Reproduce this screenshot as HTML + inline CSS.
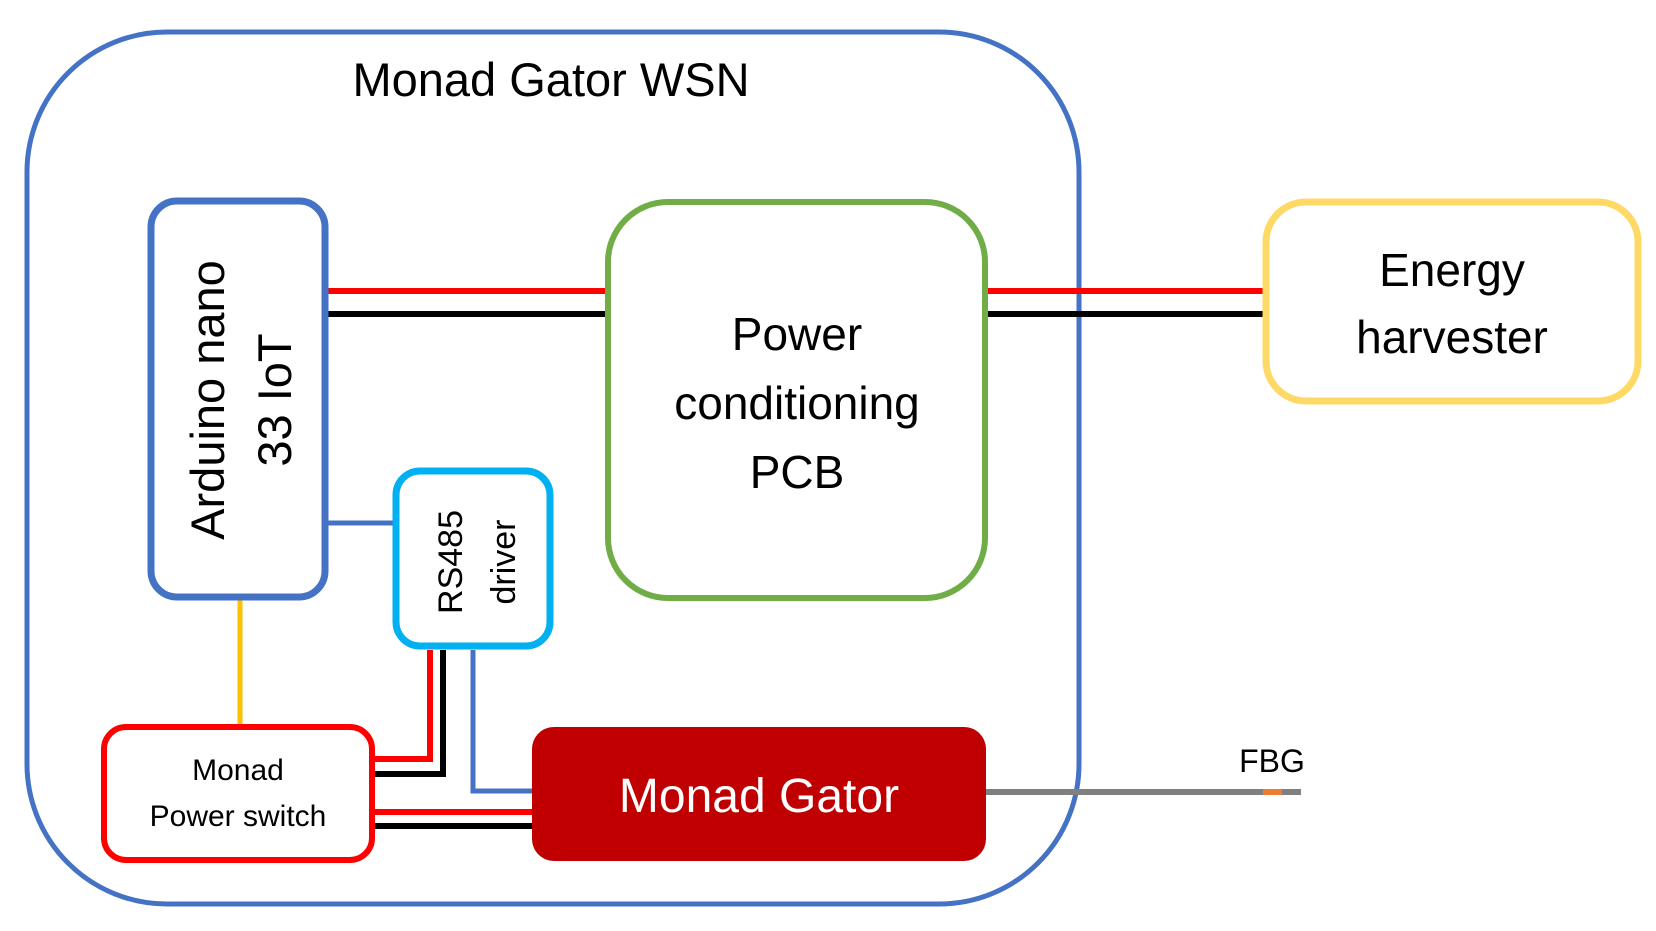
<!DOCTYPE html>
<html><head><meta charset="utf-8"><style>
body{margin:0;background:#fff}
svg{display:block}
text{font-family:"Liberation Sans",sans-serif;fill:#000}
</style></head><body>
<svg width="1656" height="931" viewBox="0 0 1656 931" xmlns="http://www.w3.org/2000/svg">
<rect x="27" y="32" width="1052" height="872" rx="140" fill="none" stroke="#4472C4" stroke-width="5"/>
<text x="551" y="96" font-size="47" text-anchor="middle">Monad Gator WSN</text>
<g stroke-width="6" fill="none">
<line x1="326" y1="291" x2="607" y2="291" stroke="#FF0000"/>
<line x1="326" y1="314" x2="607" y2="314" stroke="#000"/>
<line x1="985" y1="291" x2="1265" y2="291" stroke="#FF0000"/>
<line x1="985" y1="314" x2="1265" y2="314" stroke="#000"/>
<line x1="326" y1="523" x2="394" y2="523" stroke="#4472C4" stroke-width="5"/>
<line x1="240" y1="598" x2="240" y2="727" stroke="#FFC000" stroke-width="5"/>
<polyline points="430,650 430,759 373,759" stroke="#FF0000"/>
<polyline points="443,650 443,774 373,774" stroke="#000"/>
<polyline points="473,650 473,791 533,791" stroke="#4472C4" stroke-width="5"/>
<line x1="373" y1="812" x2="533" y2="812" stroke="#FF0000"/>
<line x1="373" y1="826" x2="533" y2="826" stroke="#000"/>
<line x1="985" y1="792" x2="1301" y2="792" stroke="#808080" stroke-width="6"/>
<line x1="1263" y1="792" x2="1282" y2="792" stroke="#ED7D31" stroke-width="6"/>
</g>
<rect x="151" y="201" width="174" height="396" rx="26" fill="#fff" stroke="#4472C4" stroke-width="7"/>
<text transform="translate(224,400) rotate(-90)" font-size="47" text-anchor="middle">Arduino nano</text>
<text transform="translate(291,400) rotate(-90)" font-size="47" text-anchor="middle">33 IoT</text>
<rect x="608" y="202" width="377" height="396" rx="60" fill="#fff" stroke="#70AD47" stroke-width="6"/>
<text x="797" y="350" font-size="46" text-anchor="middle">Power</text>
<text x="797" y="419" font-size="46" text-anchor="middle">conditioning</text>
<text x="797" y="488" font-size="46" text-anchor="middle">PCB</text>
<rect x="1266" y="202" width="372" height="199" rx="40" fill="#fff" stroke="#FFD966" stroke-width="7"/>
<text x="1452" y="286" font-size="46" text-anchor="middle">Energy</text>
<text x="1452" y="353" font-size="46" text-anchor="middle">harvester</text>
<rect x="396" y="471" width="154" height="175" rx="24" fill="#fff" stroke="#00B0F0" stroke-width="7"/>
<text transform="translate(462,562) rotate(-90)" font-size="34" text-anchor="middle">RS485</text>
<text transform="translate(515,562) rotate(-90)" font-size="34" text-anchor="middle">driver</text>
<rect x="104" y="727" width="268" height="133" rx="22" fill="#fff" stroke="#FF0000" stroke-width="6"/>
<text x="238" y="780" font-size="30" text-anchor="middle">Monad</text>
<text x="238" y="826" font-size="30" text-anchor="middle">Power switch</text>
<rect x="532" y="727" width="454" height="134" rx="22" fill="#C00000"/>
<text x="759" y="812" font-size="48" text-anchor="middle" style="fill:#fff">Monad Gator</text>
<text x="1272" y="772" font-size="32" text-anchor="middle">FBG</text>
</svg>
</body></html>
